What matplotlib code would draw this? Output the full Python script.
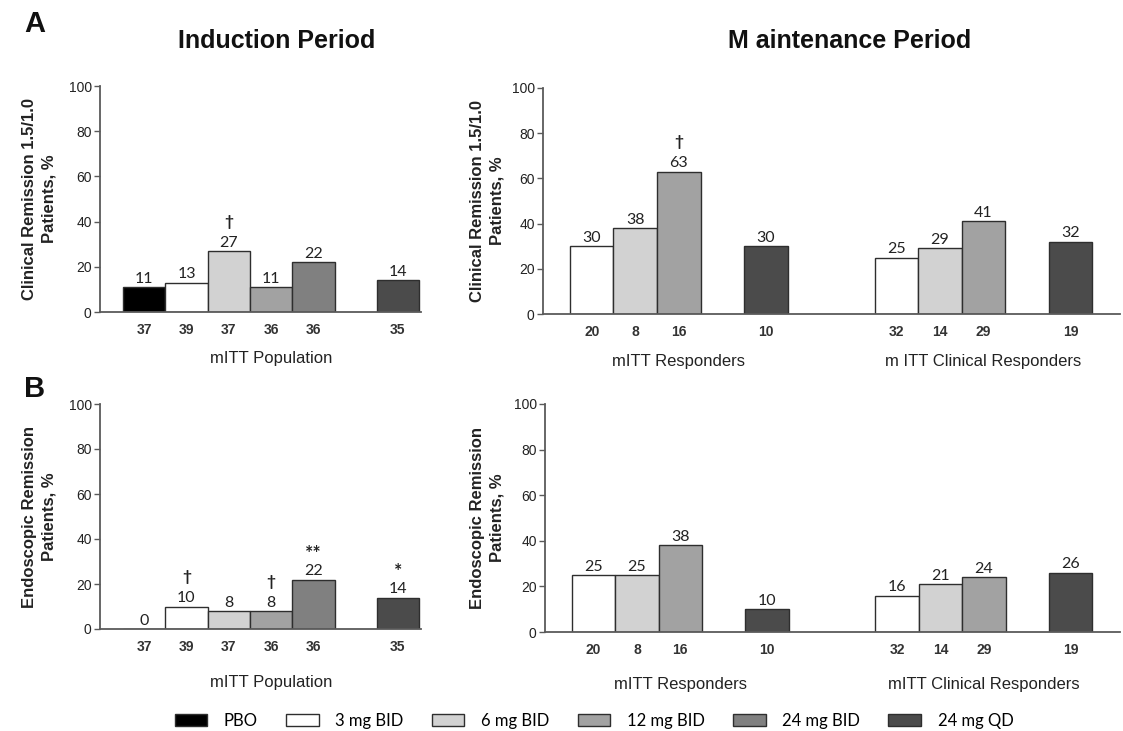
import matplotlib
matplotlib.use("Agg")
import matplotlib.pyplot as plt
from matplotlib.patches import Patch

# ---------------- data ----------------
arms = ['PBO', '3 mg BID', '6 mg BID', '12 mg BID', '24 mg BID', '24 mg QD']
arm_colors = ['#000000', '#ffffff', '#d2d2d2', '#a2a2a2', '#808080', '#4b4b4b']

# Induction (mITT population): PBO, 3, 6, 12, 24 BID, 24 QD
induction_n = [37, 39, 37, 36, 36, 35]
induction_clin = [11, 13, 27, 11, 22, 14]
induction_clin_sig = ['', '', '†', '', '', '']
induction_endo = [0, 10, 8, 8, 22, 14]
induction_endo_sig = ['', '†', '', '†', '**', '*']

# Maintenance: 3 BID, 6 BID, 12 BID, 24 QD
maint_arms = ['3 mg BID', '6 mg BID', '12 mg BID', '24 mg QD']
maint_resp_n = [20, 8, 16, 10]
maint_clinresp_n = [32, 14, 29, 19]
maint_resp_clin = [30, 38, 63, 30]
maint_resp_clin_sig = ['', '', '†', '']
maint_clinresp_clin = [25, 29, 41, 32]
maint_resp_endo = [25, 25, 38, 10]
maint_clinresp_endo = [16, 21, 24, 26]

# ---------------- style ----------------
W, H = 1123, 731
fig = plt.figure(figsize=(W / 100, H / 100), dpi=100)

BOLD_FONT = ['Liberation Sans', 'DejaVu Sans']
VAL_FONT = ['Lato', 'DejaVu Sans']
N_FONT = ['Liberation Sans Narrow', 'Liberation Sans', 'DejaVu Sans']
EDGE = '#2e2e2e'
SPINE = '#5a5a5a'


def px_axes(x0, x1, ytop, ybot):
    return fig.add_axes([x0 / W, (H - ybot) / H, (x1 - x0) / W, (ybot - ytop) / H])


def style_axes(ax, xlim):
    ax.set_xlim(*xlim)
    ax.set_ylim(0, 100)
    ax.set_yticks([0, 20, 40, 60, 80, 100])
    for s in ('top', 'right'):
        ax.spines[s].set_visible(False)
    for s in ('left', 'bottom'):
        ax.spines[s].set_color(SPINE)
        ax.spines[s].set_linewidth(1.3)
    ax.tick_params(axis='y', length=4, width=1, color=SPINE, labelsize=10, pad=2)
    ax.tick_params(axis='x', length=0, pad=8)
    for lab in ax.get_yticklabels():
        lab.set_fontfamily(['Liberation Sans', 'DejaVu Sans'])
        lab.set_color('#222222')


def draw_bars(ax, slots, values, colors, n_labels, sigs):
    ax.bar(slots, values, width=1.0, color=colors, edgecolor=EDGE, linewidth=1.0, zorder=2)
    ax.set_xticks(slots)
    ax.set_xticklabels([str(v) for v in n_labels], fontsize=10, fontweight='bold',
                       family=N_FONT, color='#333333')
    for x, v, s in zip(slots, values, sigs):
        ax.annotate(str(v), (x, v), xytext=(0, 1), textcoords='offset points',
                    ha='center', va='bottom', fontsize=11.5, family=VAL_FONT, color='#222222')
        if s:
            star = '*' in s
            ax.annotate(s, (x, v), xytext=(0, 19 if star else 21), textcoords='offset points',
                        ha='center', va='center', fontsize=14 if star else 11,
                        fontweight='bold', family=VAL_FONT, color='#222222')


def group_label(ax, x, y, text):
    ax.text(x, y, text, transform=ax.get_xaxis_transform(), ha='center', va='center',
            fontsize=12, family=BOLD_FONT, color='#222222')


def ylabel(x_px, ax, text):
    pos = ax.get_position()
    fig.text(x_px / W, pos.y0 + pos.height / 2, text, rotation=90, ha='center', va='center',
             multialignment='center', fontsize=12, fontweight='bold', family=BOLD_FONT,
             linespacing=1.4, color='#222222')


ind_slots = [0, 1, 2, 3, 4, 6]
ind_xlim = (-1.044, 6.545)
mt_slots_a = [0, 1, 2, 4]
mt_slots_b = [7, 8, 9, 11]
mt_xlim = (-1.12, 12.14)
mt_colors = [arm_colors[arms.index(a)] for a in maint_arms]

# ---- A left ----
axA1 = px_axes(100, 421, 86, 312)
style_axes(axA1, ind_xlim)
draw_bars(axA1, ind_slots, induction_clin, arm_colors, induction_n, induction_clin_sig)
group_label(axA1, 3, -0.205, 'mITT Population')
ylabel(39, axA1, 'Clinical Remission 1.5/1.0\nPatients, %')

# ---- A right ----
axA2 = px_axes(543, 1120, 88, 314)
style_axes(axA2, mt_xlim)
draw_bars(axA2, mt_slots_a, maint_resp_clin, mt_colors, maint_resp_n, maint_resp_clin_sig)
draw_bars(axA2, mt_slots_b, maint_clinresp_clin, mt_colors, maint_clinresp_n, ['', '', '', ''])
axA2.set_xticks(mt_slots_a + mt_slots_b)
axA2.set_xticklabels([str(v) for v in maint_resp_n + maint_clinresp_n], fontsize=10,
                     fontweight='bold', family=N_FONT, color='#333333')
group_label(axA2, 2, -0.21, 'mITT Responders')
group_label(axA2, 9, -0.21, 'm ITT Clinical Responders')
ylabel(487, axA2, 'Clinical Remission 1.5/1.0\nPatients, %')

# ---- B left ----
axB1 = px_axes(100, 421, 404, 629)
style_axes(axB1, ind_xlim)
draw_bars(axB1, ind_slots, induction_endo, arm_colors, induction_n, induction_endo_sig)
group_label(axB1, 3, -0.24, 'mITT Population')
ylabel(39, axB1, 'Endoscopic Remission\nPatients, %')

# ---- B right ----
axB2 = px_axes(545, 1120, 404, 632)
style_axes(axB2, mt_xlim)
draw_bars(axB2, mt_slots_a, maint_resp_endo, mt_colors, maint_resp_n, ['', '', '', ''])
draw_bars(axB2, mt_slots_b, maint_clinresp_endo, mt_colors, maint_clinresp_n, ['', '', '', ''])
axB2.set_xticks(mt_slots_a + mt_slots_b)
axB2.set_xticklabels([str(v) for v in maint_resp_n + maint_clinresp_n], fontsize=10,
                     fontweight='bold', family=N_FONT, color='#333333')
group_label(axB2, 2, -0.23, 'mITT Responders')
group_label(axB2, 9, -0.23, 'mITT Clinical Responders')
ylabel(487, axB2, 'Endoscopic Remission\nPatients, %')

# ---- titles and panel letters ----
fig.text(277 / W, 1 - 41 / H, 'Induction Period', ha='center', va='center', fontsize=18,
         fontweight='bold', family=BOLD_FONT, color='#111111')
fig.text(850 / W, 1 - 41 / H, 'M aintenance Period', ha='center', va='center', fontsize=18,
         fontweight='bold', family=BOLD_FONT, color='#111111')
fig.text(35 / W, 1 - 24 / H, 'A', ha='center', va='center', fontsize=21,
         fontweight='bold', family=BOLD_FONT, color='#111111')
fig.text(35 / W, 1 - 389 / H, 'B', ha='center', va='center', fontsize=21,
         fontweight='bold', family=BOLD_FONT, color='#111111')

# ---- legend ----
handles = [Patch(facecolor=c, edgecolor=EDGE, linewidth=1.0) for c in arm_colors]
fig.legend(handles, arms, ncol=6, loc='center', bbox_to_anchor=(594 / W, 1 - 721 / H),
           frameon=False, prop={'family': VAL_FONT, 'size': 12},
           handlelength=1.95, handleheight=0.75, handletextpad=1.0, columnspacing=1.7,
           borderaxespad=0, borderpad=0)

fig.savefig('out.png', dpi=100)
